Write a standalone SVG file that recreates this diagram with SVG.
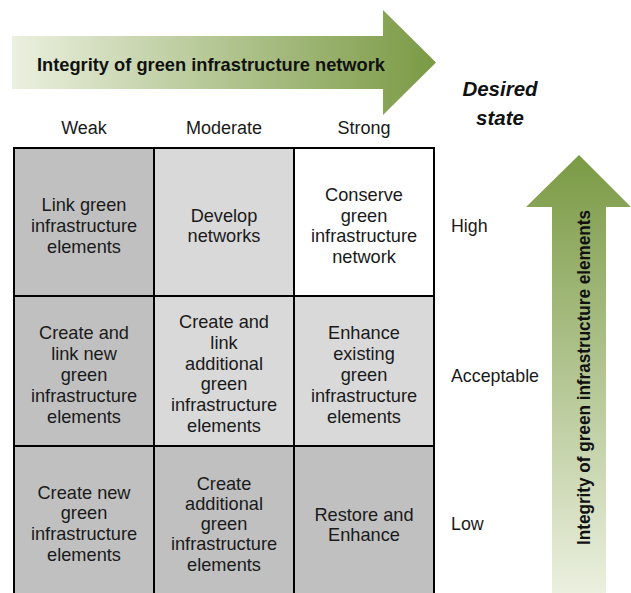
<svg xmlns="http://www.w3.org/2000/svg" width="631" height="593" viewBox="0 0 631 593">
<style>
  .cell { stroke: #000; stroke-width: 2; }
  .dark { fill: #c0c0c0; }
  .mid { fill: #d9d9d9; }
  .white { fill: #ffffff; }
  .t { font-family: "Liberation Sans", Arial, sans-serif; font-size: 18.2px; fill: #1a1a1a; text-anchor: middle; }
  .lab { font-family: "Liberation Sans", Arial, sans-serif; font-size: 17.8px; fill: #1a1a1a; }
  .hdr { font-family: "Liberation Sans", Arial, sans-serif; font-size: 18px; fill: #1a1a1a; text-anchor: middle; }
  .bold { font-family: "Liberation Sans", Arial, sans-serif; font-weight: bold; fill: #111; }
</style>
<defs>
  <linearGradient id="gh" x1="0" y1="0" x2="1" y2="0">
    <stop offset="0" stop-color="#ebf0df"/>
    <stop offset="1" stop-color="#7a9a44"/>
  </linearGradient>
  <linearGradient id="gv" x1="0" y1="1" x2="0" y2="0">
    <stop offset="0" stop-color="#ebf0df"/>
    <stop offset="1" stop-color="#7a9a44"/>
  </linearGradient>
</defs>
<rect width="631" height="593" fill="#ffffff"/>

<g id="arrow-network">
  <polygon points="12,36 383,36 383,10 436,62.5 383,115 383,89 12,89" fill="url(#gh)"/>
  <text class="bold" x="211" y="71" font-size="19" text-anchor="middle" textLength="348" lengthAdjust="spacingAndGlyphs">Integrity of green infrastructure network</text>
</g>

<g id="desired-state">
  <text class="bold" x="500" y="96" font-size="20.5" font-style="italic" text-anchor="middle">Desired</text>
  <text class="bold" x="500" y="125" font-size="20.5" font-style="italic" text-anchor="middle">state</text>
</g>

<g id="arrow-elements">
  <polygon points="552,593 552,207 526,207 579,155 631,207 606,207 606,593" fill="url(#gv)"/>
  <text class="bold" font-size="18" text-anchor="middle" textLength="335" lengthAdjust="spacingAndGlyphs" transform="translate(590,377.5) rotate(-90)">Integrity of green infrastructure elements</text>
</g>

<g id="col-headers">
  <text class="hdr" x="84" y="134">Weak</text>
  <text class="hdr" x="224" y="134">Moderate</text>
  <text class="hdr" x="364" y="134">Strong</text>
</g>

<g id="row-labels">
  <text class="lab" x="451" y="232">High</text>
  <text class="lab" x="451" y="381.7">Acceptable</text>
  <text class="lab" x="451" y="530">Low</text>
</g>

<g id="cell-weak-high">
  <rect class="cell dark" x="14" y="148" width="140" height="148"/>
  <text class="t" x="84" y="211.2">Link green</text>
  <text class="t" x="84" y="232">infrastructure</text>
  <text class="t" x="84" y="252.8">elements</text>
</g>
<g id="cell-moderate-high">
  <rect class="cell mid" x="154" y="148" width="140" height="148"/>
  <text class="t" x="224" y="221.5">Develop</text>
  <text class="t" x="224" y="242.3">networks</text>
</g>
<g id="cell-strong-high">
  <rect class="cell white" x="294" y="148" width="140" height="148"/>
  <text class="t" x="364" y="200.7">Conserve</text>
  <text class="t" x="364" y="221.5">green</text>
  <text class="t" x="364" y="242.3">infrastructure</text>
  <text class="t" x="364" y="263.1">network</text>
</g>

<g id="cell-weak-acceptable">
  <rect class="cell dark" x="14" y="296" width="140" height="150"/>
  <text class="t" x="84" y="339.3">Create and</text>
  <text class="t" x="84" y="360.1">link new</text>
  <text class="t" x="84" y="380.9">green</text>
  <text class="t" x="84" y="401.7">infrastructure</text>
  <text class="t" x="84" y="422.5">elements</text>
</g>
<g id="cell-moderate-acceptable">
  <rect class="cell mid" x="154" y="296" width="140" height="150"/>
  <text class="t" x="224" y="328">Create and</text>
  <text class="t" x="224" y="348.8">link</text>
  <text class="t" x="224" y="369.6">additional</text>
  <text class="t" x="224" y="390.4">green</text>
  <text class="t" x="224" y="411.2">infrastructure</text>
  <text class="t" x="224" y="432">elements</text>
</g>
<g id="cell-strong-acceptable">
  <rect class="cell mid" x="294" y="296" width="140" height="150"/>
  <text class="t" x="364" y="339.3">Enhance</text>
  <text class="t" x="364" y="360.1">existing</text>
  <text class="t" x="364" y="380.9">green</text>
  <text class="t" x="364" y="401.7">infrastructure</text>
  <text class="t" x="364" y="422.5">elements</text>
</g>

<g id="cell-weak-low">
  <rect class="cell dark" x="14" y="446" width="140" height="160"/>
  <text class="t" x="84" y="498.5">Create new</text>
  <text class="t" x="84" y="519.3">green</text>
  <text class="t" x="84" y="540.1">infrastructure</text>
  <text class="t" x="84" y="560.9">elements</text>
</g>
<g id="cell-moderate-low">
  <rect class="cell dark" x="154" y="446" width="140" height="160"/>
  <text class="t" x="224" y="489.5">Create</text>
  <text class="t" x="224" y="509.8">additional</text>
  <text class="t" x="224" y="530.1">green</text>
  <text class="t" x="224" y="550.4">infrastructure</text>
  <text class="t" x="224" y="570.7">elements</text>
</g>
<g id="cell-strong-low">
  <rect class="cell dark" x="294" y="446" width="140" height="160"/>
  <text class="t" x="364" y="520.5">Restore and</text>
  <text class="t" x="364" y="541">Enhance</text>
</g>

<g id="connectors"></g>
</svg>
